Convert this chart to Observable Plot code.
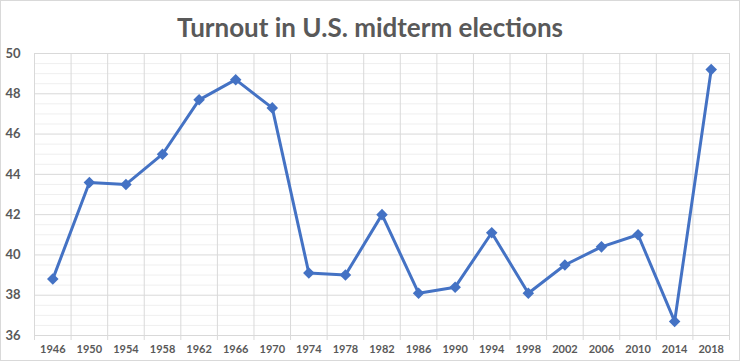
<!DOCTYPE html>
<html>
<head>
<meta charset="utf-8">
<script src="https://cdn.jsdelivr.net/npm/d3@7"></script>
<script src="https://cdn.jsdelivr.net/npm/@observablehq/plot@0.6"></script>
<style>
  html, body { margin: 0; padding: 0; background: #fff; }
  #chart { width: 740px; height: 361px; box-sizing: border-box; border: 1px solid #d9d9d9; position: relative; overflow: hidden; background: #fff; }
  #title { height: 44px; box-sizing: border-box; padding-top: 11px; text-align: center; font-family: Lato, "Open Sans", sans-serif; font-weight: bold; font-size: 26px; line-height: 30px; color: #595959; }
  svg { display: block; }
</style>
</head>
<body>
<div id="chart">
  <div id="title">Turnout in U.S. midterm elections</div>
</div>
<script>
const years = [1946, 1950, 1954, 1958, 1962, 1966, 1970, 1974, 1978, 1982, 1986, 1990, 1994, 1998, 2002, 2006, 2010, 2014, 2018];
const turnout = [38.8, 43.6, 43.5, 45.0, 47.7, 48.7, 47.3, 39.1, 39.0, 42.0, 38.1, 38.4, 41.1, 38.1, 39.5, 40.4, 41.0, 36.7, 49.2];
const yTicks = [36, 38, 40, 42, 44, 46, 48, 50];
const xTickLabels = years;

const data = years.map((y, i) => ({year: y, value: turnout[i]}));
const boundaries = d3.range(1944, 2021, 4);
const minorY = d3.range(36, 50.01, 0.5).filter(v => !yTicks.includes(v));

const plot = Plot.plot({
  width: 738,
  height: 315,
  marginTop: 8,
  marginBottom: 25,
  marginLeft: 33,
  marginRight: 10,
  style: {fontFamily: "Lato, 'Open Sans', sans-serif", color: "#595959", background: "#fff"},
  x: {domain: [1944, 2020]},
  y: {domain: [36, 50]},
  marks: [
    Plot.gridY(minorY, {stroke: "#efefef", strokeOpacity: 1}),
    Plot.gridY(yTicks, {stroke: "#d9d9d9", strokeOpacity: 1}),
    Plot.gridX(boundaries, {stroke: "#d9d9d9", strokeOpacity: 1}),
    Plot.axisX(boundaries, {tickSize: 5, stroke: "#d9d9d9", tickFormat: () => "", label: null}),
    Plot.ruleY([36], {stroke: "#d9d9d9"}),
    Plot.axisX(xTickLabels, {tickSize: 0, tickPadding: 10, tickFormat: d => String(d), fontSize: 11, fontWeight: "bold", fill: "#595959", label: null}),
    Plot.axisY(yTicks, {tickSize: 0, tickPadding: 14, fontSize: 13, fontWeight: "bold", fill: "#595959", label: null}),
    Plot.line(data, {x: "year", y: "value", stroke: "#4472C4", strokeWidth: 3}),
    Plot.dot(data, {x: "year", y: "value", symbol: d3.symbolDiamond2, r: 5.2, fill: "#4472C4", stroke: "none"})
  ]
});
document.getElementById("chart").appendChild(plot);
</script>
</body>
</html>
